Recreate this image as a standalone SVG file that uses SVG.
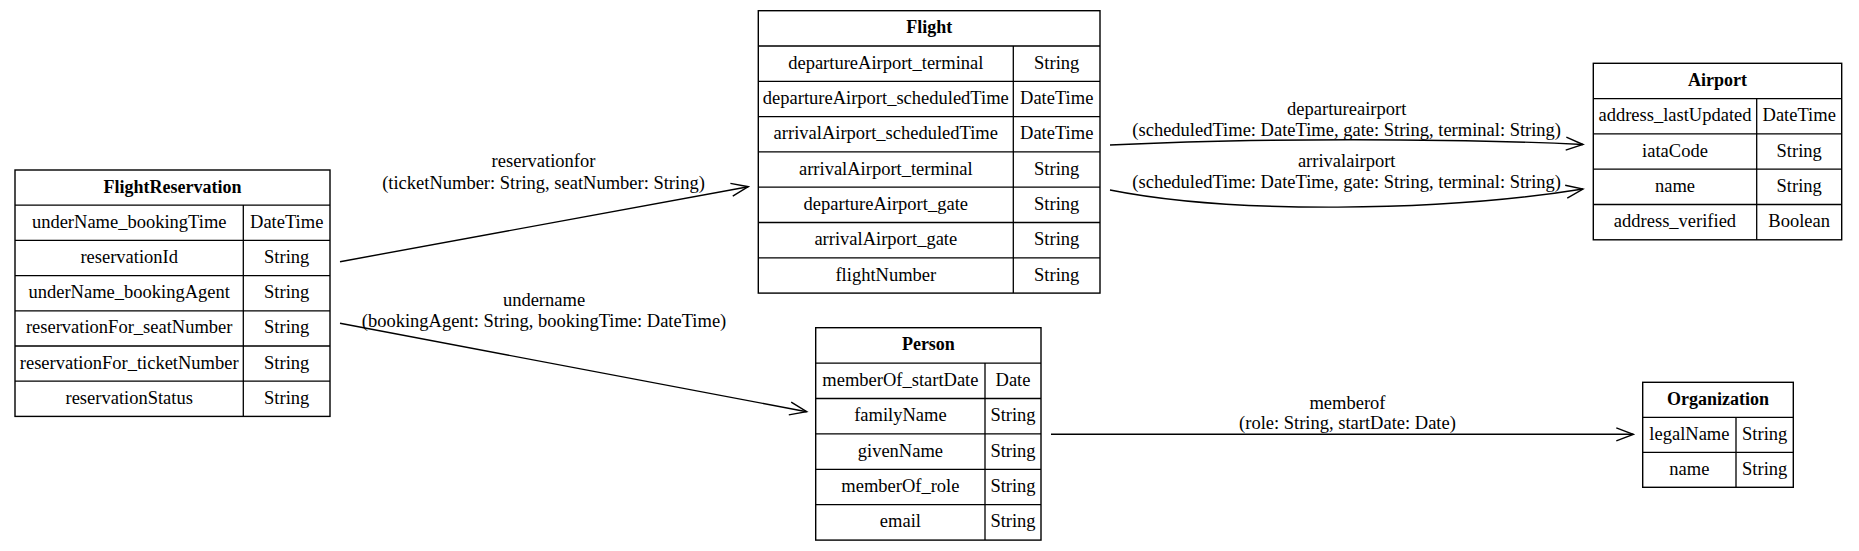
<svg xmlns="http://www.w3.org/2000/svg" width="1859" height="551" viewBox="0 0 1859 551">
<style>
text{font-family:"Liberation Serif","Times New Roman",serif;font-size:18.5px;fill:#000;text-anchor:middle}
.h{font-weight:bold;font-size:18px}
.box{fill:#fff;stroke:#000;stroke-width:1.4}
.ln{stroke:#000;stroke-width:1.3;fill:none}
.edge{stroke:#000;stroke-width:1.4;fill:none;marker-end:url(#vee)}
</style>
<defs>
<marker id="vee" markerUnits="userSpaceOnUse" viewBox="-2 -2 21 17" markerWidth="21" markerHeight="17" refX="17" refY="6.5" orient="auto">
<polyline points="0,0 17,6.5 0,13" fill="none" stroke="#000" stroke-width="1.4"/>
</marker>
</defs>
<rect width="1859" height="551" fill="#fff"/>

<g id="connectors">
<path class="edge" d="M340,261.7 L748.3,186.7"/>
<path class="edge" d="M340,323.3 L806.7,411.7"/>
<path class="edge" d="M1110,145 C1250,138 1450,138 1583,144.5"/>
<path class="edge" d="M1110,190 C1230,214 1440,212 1583,189"/>
<path class="edge" d="M1051,434.3 L1633.3,434.3"/>
<text x="543.5" y="167">reservationfor</text>
<text x="543.5" y="188.5">(ticketNumber: String, seatNumber: String)</text>
<text x="544" y="305.7">undername</text>
<text x="544" y="327.3">(bookingAgent: String, bookingTime: DateTime)</text>
<text x="1346.7" y="115">departureairport</text>
<text x="1346.7" y="135.7">(scheduledTime: DateTime, gate: String, terminal: String)</text>
<text x="1346.7" y="166.7">arrivalairport</text>
<text x="1346.7" y="188.3">(scheduledTime: DateTime, gate: String, terminal: String)</text>
<text x="1347.5" y="408.5">memberof</text>
<text x="1347.5" y="429.3">(role: String, startDate: Date)</text>
</g>

<g id="FlightReservation">
<rect class="box" x="15" y="170" width="315" height="246.4"/>
<path class="ln" d="M15,205.2H330M15,240.4H330M15,275.6H330M15,310.8H330M15,346H330M15,381.2H330M243.3,205.2V416.4"/>
<text class="h" x="172.5" y="192.6">FlightReservation</text>
<text x="129.2" y="227.8">underName_bookingTime</text><text x="286.7" y="227.8">DateTime</text>
<text x="129.2" y="263">reservationId</text><text x="286.7" y="263">String</text>
<text x="129.2" y="298.2">underName_bookingAgent</text><text x="286.7" y="298.2">String</text>
<text x="129.2" y="333.4">reservationFor_seatNumber</text><text x="286.7" y="333.4">String</text>
<text x="129.2" y="368.6">reservationFor_ticketNumber</text><text x="286.7" y="368.6">String</text>
<text x="129.2" y="403.8">reservationStatus</text><text x="286.7" y="403.8">String</text>
</g>

<g id="Flight">
<rect class="box" x="758.3" y="10.7" width="341.7" height="282.4"/>
<path class="ln" d="M758.3,46H1100M758.3,81.3H1100M758.3,116.6H1100M758.3,151.9H1100M758.3,187.2H1100M758.3,222.5H1100M758.3,257.8H1100M1013.3,46V293.1"/>
<text class="h" x="929.2" y="33.4">Flight</text>
<text x="885.8" y="68.7">departureAirport_terminal</text><text x="1056.7" y="68.7">String</text>
<text x="885.8" y="104">departureAirport_scheduledTime</text><text x="1056.7" y="104">DateTime</text>
<text x="885.8" y="139.3">arrivalAirport_scheduledTime</text><text x="1056.7" y="139.3">DateTime</text>
<text x="885.8" y="174.6">arrivalAirport_terminal</text><text x="1056.7" y="174.6">String</text>
<text x="885.8" y="209.9">departureAirport_gate</text><text x="1056.7" y="209.9">String</text>
<text x="885.8" y="245.2">arrivalAirport_gate</text><text x="1056.7" y="245.2">String</text>
<text x="885.8" y="280.5">flightNumber</text><text x="1056.7" y="280.5">String</text>
</g>

<g id="Airport">
<rect class="box" x="1593.3" y="63.3" width="248.4" height="176.5"/>
<path class="ln" d="M1593.3,98.6H1841.7M1593.3,133.9H1841.7M1593.3,169.2H1841.7M1593.3,204.5H1841.7M1756.7,98.6V239.8"/>
<text class="h" x="1717.5" y="86">Airport</text>
<text x="1675" y="121.3">address_lastUpdated</text><text x="1799.2" y="121.3">DateTime</text>
<text x="1675" y="156.6">iataCode</text><text x="1799.2" y="156.6">String</text>
<text x="1675" y="191.9">name</text><text x="1799.2" y="191.9">String</text>
<text x="1675" y="227.2">address_verified</text><text x="1799.2" y="227.2">Boolean</text>
</g>

<g id="Person">
<rect class="box" x="815.7" y="327.7" width="225.3" height="212.4"/>
<path class="ln" d="M815.7,363.1H1041M815.7,398.5H1041M815.7,433.9H1041M815.7,469.3H1041M815.7,504.7H1041M985,363.1V540.1"/>
<text class="h" x="928.4" y="350.4">Person</text>
<text x="900.4" y="385.8">memberOf_startDate</text><text x="1013" y="385.8">Date</text>
<text x="900.4" y="421.2">familyName</text><text x="1013" y="421.2">String</text>
<text x="900.4" y="456.6">givenName</text><text x="1013" y="456.6">String</text>
<text x="900.4" y="492">memberOf_role</text><text x="1013" y="492">String</text>
<text x="900.4" y="527.4">email</text><text x="1013" y="527.4">String</text>
</g>

<g id="Organization">
<rect class="box" x="1642.7" y="382.3" width="150.6" height="105"/>
<path class="ln" d="M1642.7,417.3H1793.3M1642.7,452.3H1793.3M1736,417.3V487.3"/>
<text class="h" x="1718" y="404.8">Organization</text>
<text x="1689.4" y="439.8">legalName</text><text x="1764.7" y="439.8">String</text>
<text x="1689.4" y="474.8">name</text><text x="1764.7" y="474.8">String</text>
</g>
</svg>
